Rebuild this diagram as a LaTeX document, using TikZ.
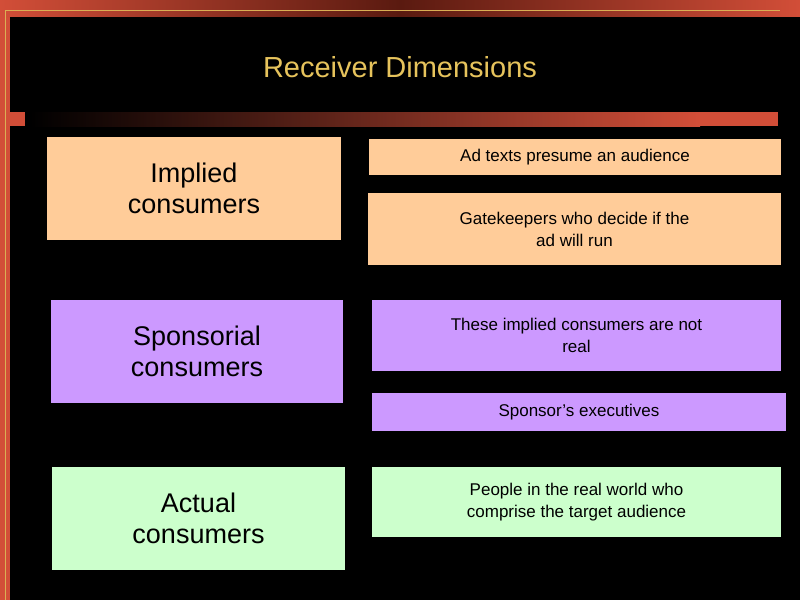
\documentclass[tikz,border=0pt]{standalone}
\usepackage{fontspec}
\setmainfont{Liberation Sans}
\begin{document}
\begin{tikzpicture}[x=1pt,y=-1pt,
  box/.style={draw=none,inner sep=2pt,align=center,text=black},
  big/.style={box,font=\fontsize{27}{31}\selectfont},
  small/.style={box,font=\fontsize{17}{22}\selectfont}]
\definecolor{peach}{HTML}{FFCC99}
\definecolor{lilac}{HTML}{CC99FF}
\definecolor{mint}{HTML}{CCFFCC}
\definecolor{brick}{HTML}{D24E38}
\definecolor{darkbrick}{HTML}{5A1A10}
\definecolor{gold}{HTML}{E6C35C}
\useasboundingbox (0,0) rectangle (800,600);
\fill[brick] (0,0) rectangle (800,600);
\shade[left color=brick,right color=darkbrick] (0,0) rectangle (400,17);
\shade[left color=darkbrick,right color=brick] (400,0) rectangle (800,17);
\fill[black] (10,17) rectangle (800,600);
\draw[gold!70!brown,line width=1pt] (5,600) -- (5,10) -- (780,10);
\shade[left color=black,right color=brick] (30,112) rectangle (700,126);
\fill[brick] (700,112) rectangle (778,126);
\fill[brick] (10,112) rectangle (25,126);
\node[text=gold,font=\fontsize{29}{34}\selectfont] (title) at (400,67) {Receiver Dimensions};
\node[big,fill=peach,minimum width=294,minimum height=103] (imp) at (194,188.5) {Implied\\consumers};
\node[small,fill=peach,minimum width=412,minimum height=36] (a1) at (575,157) {Ad texts presume an audience};
\node[small,fill=peach,minimum width=413,minimum height=72] (a2) at (574.5,229) {Gatekeepers who decide if the\\ad will run};
\node[big,fill=lilac,minimum width=292,minimum height=103] (spo) at (197,351.5) {Sponsorial\\consumers};
\node[small,fill=lilac,minimum width=409,minimum height=71] (b1) at (576.5,335.5) {These implied consumers are not\\real};
\node[small,fill=lilac,minimum width=414,minimum height=38] (b2) at (579,412) {Sponsor’s executives};
\node[big,fill=mint,minimum width=293,minimum height=103] (act) at (198.5,518.5) {Actual\\consumers};
\node[small,fill=mint,minimum width=409,minimum height=70] (c1) at (576.5,502) {People in the real world who\\comprise the target audience};
\end{tikzpicture}
\end{document}
